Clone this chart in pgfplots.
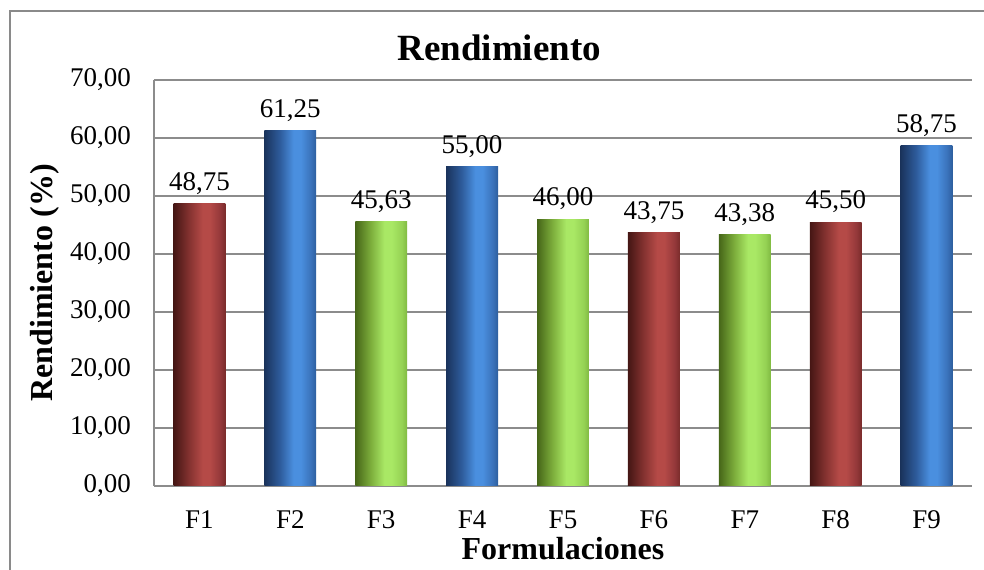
\documentclass[border=0pt]{standalone}
\usepackage{fontspec}
\setmainfont{Liberation Serif}
\usepackage{pgfplots}
\pgfplotsset{compat=1.18}
\usetikzlibrary{calc}
\definecolor{gridc}{HTML}{8C8C8C}
\definecolor{frc}{HTML}{8A8A8A}
\definecolor{rd1}{HTML}{451614}
\definecolor{rd2}{HTML}{843230}
\definecolor{rd3}{HTML}{B54A47}
\definecolor{rd4}{HTML}{94383A}
\definecolor{rd5}{HTML}{7A2C2B}
\definecolor{bl1}{HTML}{1A335C}
\definecolor{bl2}{HTML}{2E5C9C}
\definecolor{bl3}{HTML}{4A8FDF}
\definecolor{bl4}{HTML}{3A72BA}
\definecolor{bl5}{HTML}{2D5E9E}
\definecolor{gr1}{HTML}{466618}
\definecolor{gr2}{HTML}{7DAE3C}
\definecolor{gr3}{HTML}{A9E865}
\definecolor{gr4}{HTML}{95D254}
\definecolor{gr5}{HTML}{80BA42}
\pgfdeclarehorizontalshading{redbar}{100bp}{color(0bp)=(rd1); color(25bp)=(rd1); color(40bp)=(rd2); color(53bp)=(rd3); color(60bp)=(rd3); color(70bp)=(rd4); color(75bp)=(rd5); color(100bp)=(rd5)}
\pgfdeclarehorizontalshading{bluebar}{100bp}{color(0bp)=(bl1); color(25bp)=(bl1); color(40bp)=(bl2); color(53bp)=(bl3); color(60bp)=(bl3); color(70bp)=(bl4); color(75bp)=(bl5); color(100bp)=(bl5)}
\pgfdeclarehorizontalshading{greenbar}{100bp}{color(0bp)=(gr1); color(25bp)=(gr1); color(40bp)=(gr2); color(53bp)=(gr3); color(60bp)=(gr3); color(70bp)=(gr4); color(75bp)=(gr5); color(100bp)=(gr5)}
\pgfplotsset{
  mybar/.style={ybar, bar width=0.57, bar shift=0pt, draw=none, shading=#1},
}
\begin{document}
\begin{tikzpicture}
\begin{axis}[
  scale only axis, width=409pt, height=203pt,
  xmin=0.5, xmax=9.5, ymin=0, ymax=70,
  xtick={1,...,9}, xticklabels={F1,F2,F3,F4,F5,F6,F7,F8,F9},
  ytick={0,10,...,70},
  axis lines*=left,
  axis line style={gridc, line width=1pt, -},
  every outer x axis line/.append style={-},
  every outer y axis line/.append style={-},
  ymajorgrids, grid style={gridc, line width=1pt},
  major tick length=0pt,
  tick label style={font=\fontsize{13.5}{15}\selectfont},
  /pgf/number format/assume math mode=true,
  yticklabel style={anchor=east, xshift=-8pt, /pgf/number format/fixed, /pgf/number format/fixed zerofill, /pgf/number format/precision=2, /pgf/number format/use comma},
  xticklabel style={anchor=center, yshift=-17pt},
  title={Rendimiento},
  title style={at={(axis description cs:0.422,1)}, font=\fontsize{18.5}{20}\selectfont\bfseries},
  ylabel={Rendimiento (\%)},
  ylabel style={at={(axis description cs:-0.1333,0.5)}, anchor=center, font=\fontsize{16}{18}\selectfont\bfseries},
  xlabel={Formulaciones},
  xlabel style={at={(axis description cs:0.5,-0.155)}, anchor=center, font=\fontsize{16}{18}\selectfont\bfseries},
  clip=false,
]
\addplot[mybar=redbar]   coordinates {(1,48.75)};
\addplot[mybar=bluebar]  coordinates {(2,61.25)};
\addplot[mybar=greenbar] coordinates {(3,45.63)};
\addplot[mybar=bluebar]  coordinates {(4,55.00)};
\addplot[mybar=greenbar] coordinates {(5,46.00)};
\addplot[mybar=redbar]   coordinates {(6,43.75)};
\addplot[mybar=greenbar] coordinates {(7,43.38)};
\addplot[mybar=redbar]   coordinates {(8,45.50)};
\addplot[mybar=bluebar]  coordinates {(9,58.75)};
\addplot[draw=none, mark=none, nodes near coords, point meta=explicit symbolic,
  every node near coord/.append style={font=\fontsize{13.5}{15}\selectfont, text=black, anchor=south, yshift=1pt}]
  coordinates {(1,48.75) [48,75] (2,61.25) [61,25] (3,45.63) [45,63] (4,55.00) [55,00] (5,46.00) [46,00] (6,43.75) [43,75] (7,43.38) [43,38] (8,45.50) [45,50] (9,58.75) [58,75]};
\coordinate (sw) at (rel axis cs:0,0);
\coordinate (ne) at (rel axis cs:1,1);
\end{axis}
\draw[frc, line width=0.6pt] ($(sw)+(-72pt,-60pt)$) -- ($(sw|-ne)+(-72pt,34.5pt)$) -- ($(ne)+(20pt,34.5pt)$);
\pgfresetboundingbox
\path ($(sw)+(-77pt,-42pt)$) rectangle ($(ne)+(6pt,40pt)$);
\end{tikzpicture}
\end{document}
